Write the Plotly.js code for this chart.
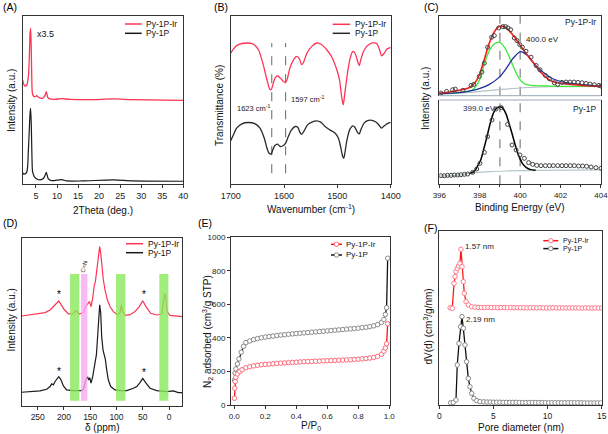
<!DOCTYPE html>
<html><head><meta charset="utf-8">
<script src="https://cdn.plot.ly/plotly-3.0.1.min.js"></script>
<style>html,body{margin:0;padding:0;background:#fff}#plot{width:608px;height:434px}</style>
</head><body><div id="plot"></div>
<script>
// ---------- DATA ----------
// (A) XRD
const aIrX = [1.85,2.0,2.4,2.8,3.2,3.45,3.6,3.73,3.85,4.0,4.15,4.4,4.9,5.2,5.6,6.5,7.1,7.45,7.8,8.3,9.5,11.1,13,18,23.4,28,40];
const aIrY = [62.0,60.0,58.4,59.0,64.0,77.8,89.7,92.7,83.8,64.0,54.1,52.5,52.1,52.7,51.7,51.1,52.5,55.0,51.7,50.7,50.5,50.9,50.5,50.3,50.7,50.3,49.9];
const aPX = [1.85,2.15,2.8,3.2,3.45,3.6,3.73,3.9,4.05,4.2,4.6,5.2,6.0,6.8,7.2,7.45,7.7,7.95,8.7,11.1,12.3,16,23.4,28,40];
const aPY = [6.7,6.1,7.1,20.4,34.3,42.2,45.1,34.3,16.4,7.5,4.6,3.2,2.6,3.6,5.5,7.1,5.1,3.2,2.2,2.8,2.0,2.0,2.6,2.0,1.8];
const aTicks = [5,10,15,20,25,30,35,40];
// (B) FTIR
const bIrX = [1700,1695,1686,1670,1658,1648,1639,1632,1627,1624,1621,1617,1612,1607,1601,1597,1594,1589,1582,1576,1571,1567,1564,1557,1548,1539,1529,1520,1511,1501,1496,1492,1489,1486,1481,1476,1471,1467,1462,1459,1456,1451,1445,1436,1426,1421,1417,1412,1407,1400];
const bIrY = [78.1,80.5,83.1,84.1,83.5,80.1,71.2,62.2,56.7,56.3,59.2,63.2,64.6,63.2,61.2,60.6,62.6,69.2,74.2,76.1,74.5,71.2,72.2,78.1,82.1,84.1,83.1,80.1,76.1,68.2,62.2,52.3,47.3,54.3,66.2,75.1,79.1,78.1,73.2,70.6,74.2,79.1,82.1,84.1,83.7,80.1,76.5,78.1,80.5,81.5];
const bPX = [1700,1695,1689,1679,1667,1654,1645,1637,1632,1628,1624,1621,1617,1612,1607,1601,1597,1592,1586,1579,1574,1570,1567,1562,1556,1548,1539,1531,1523,1514,1504,1498,1494,1490,1488,1486,1482,1477,1471,1467,1462,1459,1456,1450,1442,1432,1425,1420,1417,1412,1407,1400];
const bPY = [26.0,29.4,33.4,36.0,36.8,36.0,33.4,27.4,21.5,18.5,18.1,20.5,23.1,23.9,22.5,23.1,24.5,28.4,32.4,34.4,33.8,30.8,29.8,32.0,35.4,37.0,37.8,37.0,34.4,32.4,30.4,27.4,22.5,16.5,15.5,18.5,26.4,32.4,34.8,33.8,30.8,30.0,32.4,36.4,38.0,37.8,36.4,34.4,33.4,34.8,36.0,36.8];
const bRefX = [1623,1597];
const bRefY = [6.6,84.1];
const bTicks = [1700,1600,1500,1400];
// (C) XPS N1s
const cIrPtsX = [396.08,396.36,396.66,396.79,397.16,397.57,397.70,397.98,398.11,398.23,398.39,398.59,398.72,398.94,399.14,399.27,399.40,399.53,399.71,399.84,399.98,400.11,400.29,400.54,400.79,400.98,401.25,401.45,401.69,401.86,402.07,402.27,402.47,402.67,402.86,403.06,403.26,403.46,403.67,403.89,404.0];
const cIrPtsY = [3.3,5.4,7.5,8.3,6.7,12.9,14.2,24.2,29.6,40.8,60.8,73.3,75.4,85,86.7,86.7,85,82.9,72.5,69.2,64.2,60.8,55.8,48.3,37.9,32.5,25.4,21.25,16.25,14.2,16.7,17.1,17.1,17.1,16.7,16.25,15.4,14.6,13.75,12.9,12.1];
const cEnvX = [396.0,396.48,396.98,397.47,397.72,397.97,398.21,398.46,398.71,398.96,399.20,399.45,399.70,399.95,400.19,400.44,400.69,400.94,401.18,401.43,401.68,402.17,402.75,403.25,404.0];
const cEnvY = [3.3,4.6,6.7,10,15,25.4,44.2,65,79.6,86.7,86.7,81.7,74.2,65,56.7,48.3,40,31.7,25.4,20,17.1,15,13.75,12.5,11.7];
const cGreenX = [396.0,396.99,397.65,397.98,398.23,398.48,398.72,398.97,399.22,399.47,399.71,399.96,400.21,400.54,401.45,404.0];
const cGreenY = [2.5,3.75,7.5,19.2,40,56.7,65,67.1,60.8,48.3,33.75,21.25,15,12.9,12.1,11.7];
const cBlueX = [396.0,396.99,397.98,398.48,398.97,399.30,399.63,400.01,400.37,400.70,401.12,401.61,402.27,403.10,404.0];
const cBlueY = [2.5,3.75,8.75,14.2,23.3,33.75,46.25,55.4,50.4,40,29.6,21.25,16.25,13.75,11.7];
const cBgIrX = [396.0,397.65,398.97,400.13,401.45,404.0];
const cBgIrY = [1.7,4.6,7.5,10,11.25,11.7];
const cPPtsX = [396.08,396.25,396.41,396.58,396.74,396.91,397.07,397.24,397.40,397.65,397.85,398.01,398.23,398.39,398.61,398.81,399.07,399.38,399.60,399.80,399.99,400.21,400.42,400.62,400.82,401.03,401.25,401.45,401.64,401.86,402.07,402.27,402.48,402.68,402.89,403.09,403.29,403.51,403.75,404.0];
const cPPtsY = [10.2,10.2,10.6,10.6,11.0,11.0,11.4,11.8,12.2,14.2,18.2,24.9,37.9,56.5,76.3,89.3,90.9,71.1,46.6,40.7,34.8,30.8,25.7,23.7,22.5,22.1,22.1,22.1,22.1,22.1,22.1,22.1,22.1,22.1,21.7,21.7,21.3,20.5,19.8,19.0];
const cFitX = [397.47,397.72,397.88,398.05,398.21,398.38,398.54,398.71,398.87,399.0,399.12,399.29,399.45,399.62,399.78,399.95,400.11,400.31,400.52,400.77];
const cFitY = [12.6,15.0,20.9,28.8,42.7,58.5,74.3,86.2,90.9,92.1,90.9,84.2,72.3,58.5,44.7,32.8,24.9,19.8,17.4,16.6];
const cBgPX = [396.0,396.99,397.65,398.48,399.30,400.95,404.0];
const cBgPY = [9.8,11.0,13.4,15.0,15.8,16.6,17.0];
const cRefX = [399.0,400.0];
const cTicks = [396,398,400,402,404];
const cMinor = [396,397,398,399,400,401,402,403,404];
// (D) 13C NMR
const dIrX = [280.5,264.6,245.6,236.0,226.5,220.2,213.8,210.0,206.2,199.9,191.6,183.4,177.0,170.7,163.1,158.0,154.8,151.6,148.5,145.3,142.7,140.2,138.3,135.8,133.9,132.0,130.0,127.5,125.0,121.8,117.4,112.3,106.0,98.3,93.3,90.7,88.2,83.7,74.2,64.7,56.5,50.1,43.8,34.9,23.5,13.9,10.8,8.2,6.3,3.8,-1.9,-14.6,-25];
const dIrY = [53.4,54.0,54.6,55.4,57.0,59.0,61.0,62.3,60.6,57.4,54.6,54.6,56.6,54.6,55.4,59.4,60.6,62.0,59.0,63.9,70.9,73.8,78.8,84.7,90.7,94.7,90.7,80.8,74.8,68.8,62.9,59.0,56.0,54.2,55.4,60.0,56.0,53.8,54.2,56.0,59.0,62.5,59.0,55.0,54.0,54.6,60.0,66.9,65.0,56.0,53.8,53.4,53.0];
const dPX = [280.5,264.6,245.6,232.9,226.5,223.4,220.2,217.0,212.6,210.0,206.2,201.1,194.8,182.1,166.2,163.1,159.9,157.3,154.8,152.9,151.0,148.5,145.3,142.7,140.2,138.3,136.4,133.9,132.0,130.0,128.2,125.6,123.7,121.2,118.6,115.5,111.0,102.8,93.3,80.6,67.9,61.5,55.2,50.1,43.8,36.1,23.5,4.4,-8.3,-17.8,-25];
const dPY = [8.0,8.4,8.8,9.8,11.4,13.0,12.4,14.4,16.3,17.3,15.7,11.8,9.4,9.0,9.0,9.8,13.4,16.3,16.9,15.3,16.7,13.4,17.3,23.2,26.2,30.2,39.0,53.0,60.0,55.0,41.0,33.1,30.2,27.6,21.2,15.3,11.4,9.4,9.0,9.0,10.4,11.4,13.7,16.3,13.4,10.4,9.0,8.4,8.8,7.8,7.8];
const dBandHi = [188.4,167.5,100.9,18.4];
const dBandLo = [170.7,155.4,83.1,1.2];
const dBandKind = ['g','m','g','g'];
const dStarX = [210,48,210,48];
const dStarY = [66,66,20.5,19.5];
const dTicks = [250,200,150,100,50,0];
// (E) N2 isotherms
const eIrX = [0.001,0.003,0.006,0.01,0.02,0.035,0.05,0.075,0.1,0.125,0.15,0.175,0.2,0.225,0.25,0.275,0.3,0.325,0.35,0.375,0.4,0.425,0.45,0.475,0.5,0.525,0.55,0.575,0.6,0.625,0.65,0.675,0.7,0.725,0.75,0.775,0.8,0.825,0.85,0.875,0.9,0.925,0.95,0.965,0.975,0.983,0.99];
const eIrY = [40,100,140,165,185,200,210,222,228,233,237,240,242,244,246,248,250,251,253,254,255,257,258,259,260,261,262,263,264,265,266,267,268,269,270,272,273,275,277,280,284,290,302,320,340,365,485];
const ePX = [0.002,0.005,0.01,0.02,0.03,0.045,0.06,0.075,0.1,0.125,0.15,0.175,0.2,0.225,0.25,0.275,0.3,0.325,0.35,0.375,0.4,0.425,0.45,0.475,0.5,0.525,0.55,0.575,0.6,0.625,0.65,0.675,0.7,0.725,0.75,0.775,0.8,0.825,0.85,0.875,0.9,0.925,0.95,0.965,0.975,0.983,0.99];
const ePY = [150,190,215,245,275,315,350,372,382,390,396,401,405,408,411,414,417,419,422,424,426,428,430,432,434,436,438,440,442,444,446,448,450,452,454,456,458,461,464,467,472,479,492,510,540,580,875];
const eXTicks = [0,0.2,0.4,0.6,0.8,1.0];
const eYTicks = [0,200,400,600,800,1000];
// (F) pore size distribution
const fIrX = [1.0,1.2,1.36,1.45,1.54,1.66,1.78,1.9,2.0,2.1,2.22,2.31,2.47,2.68,2.99,3.3,3.6,3.9,4.2,4.5,4.8,5.1,5.4,5.7,6.0,6.3,6.6,6.9,7.2,7.5,7.8,8.1,8.4,8.7,9.0,9.3,9.6,9.9,10.2,10.5,10.8,11.1,11.4,11.7,12.0,12.3,12.6,12.9,13.2,13.5,13.8,14.1,14.4,14.7,15.0];
const fIrY = [55.9,55.6,69.9,73.8,76.6,78.5,79.9,81.4,89.5,79.5,70.9,64.2,59.4,57.5,56.5,56.2,56.1,56.0,56.0,56.1,56.0,56.0,55.9,56.0,56.0,55.9,56.0,55.9,55.9,55.9,55.9,55.8,55.9,55.9,55.8,55.9,55.8,55.8,55.8,55.9,55.8,55.8,55.8,55.8,55.8,55.8,55.8,55.8,55.7,55.8,55.8,55.7,55.8,55.7,55.7];
const fPX = [1.05,1.29,1.54,1.66,1.82,1.97,2.09,2.22,2.37,2.52,2.68,2.83,2.99,3.2,3.45,3.76,4.1,4.4,4.7,5.0,5.3,5.6,5.9,6.2,6.5,6.8,7.1,7.4,7.7,8.0,8.3,8.6,8.9,9.2,9.5,9.8,10.1,10.4,10.7,11.0,11.3,11.6,11.9,12.2,12.5,12.8,13.1,13.4,13.7,14.0,14.3,14.6,14.9];
const fPY = [1.3,1.5,2.9,23.0,35.4,45.0,50.8,44.1,34.5,24.9,15.3,10.5,6.7,3.8,2.5,1.9,1.8,1.7,1.7,1.6,1.6,1.6,1.5,1.5,1.5,1.5,1.5,1.4,1.4,1.4,1.4,1.4,1.4,1.4,1.4,1.3,1.3,1.3,1.3,1.3,1.3,1.3,1.3,1.3,1.3,1.3,1.3,1.2,1.2,1.2,1.2,1.2,1.2];
const fTicks = [0,5,10,15];
const seriesNames = ['Py-1P-Ir','Py-1P'];

// ---------- STYLE / LAYOUT ----------
const W = 608, H = 434;
const px = v => v / W, py = v => 1 - v / H;
const FF = 'Liberation Sans, Arial, sans-serif';
const RED = '#ff3355', BLK = '#1a1a1a';

function ax(extra) {
  return Object.assign({showline:true, mirror:true, linecolor:'#333', linewidth:1, showgrid:false, zeroline:false,
    ticks:'outside', ticklen:3, tickwidth:1, tickcolor:'#333', fixedrange:true, ticklabeloverflow:'allow',
    tickfont:{family:FF, size:9, color:'#222'}}, extra);
}
function line(x, y, xa, ya, color, w, extra) {
  return Object.assign({x, y, xaxis:xa, yaxis:ya, mode:'lines', type:'scatter', hoverinfo:'skip',
    line:{color, width:w, shape:'spline', smoothing:0.7}}, extra || {});
}
function pts(x, y, xa, ya, color, size) {
  return {x, y, xaxis:xa, yaxis:ya, mode:'markers', type:'scatter', hoverinfo:'skip',
    marker:{symbol:'circle-open', size:size, color:color, line:{width:1, color:color}}};
}
function chain(x, y, xa, ya, lc, mc, extra) {
  return Object.assign({x, y, xaxis:xa, yaxis:ya, mode:'lines+markers', type:'scatter', hoverinfo:'skip',
    line:{color:lc, width:1.3}, marker:{symbol:'circle', size:4.5, color:'#fff', line:{width:1, color:mc}}}, extra || {});
}
function dash(xv, yr, xa, ya) {
  return {x:[xv, xv], y:yr, xaxis:xa, yaxis:ya, mode:'lines', type:'scatter', hoverinfo:'skip',
    line:{color:'#666', width:1, dash:'dash'}};
}

const traces = [];
// A
traces.push(line(aPX, aPY, 'x', 'y', BLK, 1.2));
traces.push(line(aIrX, aIrY, 'x', 'y', RED, 1.3));
// B
bRefX.forEach(v => traces.push(dash(v, bRefY, 'x2', 'y2')));
traces.push(line(bPX, bPY, 'x2', 'y2', '#2a2a2a', 1.3));
traces.push(line(bIrX, bIrY, 'x2', 'y2', RED, 1.3));
// C top
cRefX.forEach(v => traces.push(dash(v, [0, 100], 'x3', 'y3')));
traces.push(line(cBgIrX, cBgIrY, 'x3', 'y3', '#b4c0c8', 1.2));
traces.push(line(cGreenX, cGreenY, 'x3', 'y3', '#3ce83c', 1.3));
traces.push(line(cBlueX, cBlueY, 'x3', 'y3', '#1c2f9c', 1.3));
traces.push(line(cEnvX, cEnvY, 'x3', 'y3', '#ff1a1a', 1.6));
traces.push(pts(cIrPtsX, cIrPtsY, 'x3', 'y3', '#444', 4));
// C bottom
cRefX.forEach(v => traces.push(dash(v, [0, 100], 'x4', 'y4')));
traces.push(line(cBgPX, cBgPY, 'x4', 'y4', '#b4c8cc', 1.2));
traces.push(line(cFitX, cFitY, 'x4', 'y4', '#000', 1.5));
traces.push(pts(cPPtsX, cPPtsY, 'x4', 'y4', '#444', 4));
// D
traces.push(line(dPX, dPY, 'x5', 'y5', BLK, 1.2, {line:{color:BLK, width:1.2, shape:'linear'}}));
traces.push(line(dIrX, dIrY, 'x5', 'y5', RED, 1.2, {line:{color:RED, width:1.2, shape:'linear'}}));
// E
traces.push(chain(ePX, ePY, 'x6', 'y6', '#111', '#8a8a8a'));
traces.push(chain(eIrX, eIrY, 'x6', 'y6', '#ff1010', '#ff6a7a'));
// F
traces.push(chain(fPX, fPY, 'x7', 'y7', '#111', '#8a8a8a'));
traces.push(chain(fIrX, fIrY, 'x7', 'y7', '#ff1a1a', '#ff7a8a'));

// ---------- shapes ----------
const shapes = [];
function hline(x0, x1, y, color, w) {
  shapes.push({type:'line', xref:'paper', yref:'paper', x0:px(x0), x1:px(x1), y0:py(y), y1:py(y), line:{color, width:w}});
}
function dot(cx, cy, color) {
  shapes.push({type:'circle', xref:'paper', yref:'paper', xsizemode:'pixel', ysizemode:'pixel',
    xanchor:px(cx), yanchor:py(cy), x0:-2.2, x1:2.2, y0:-2.2, y1:2.2, fillcolor:'#fff', line:{color, width:1}});
}
// D highlight bands
dBandHi.forEach((hi, i) => {
  shapes.push({type:'rect', xref:'x5', yref:'y5', x0:hi, x1:dBandLo[i], y0:3, y1:78.4, layer:'above',
    fillcolor: dBandKind[i] === 'g' ? '#88e85a' : '#f7a8f2', opacity:0.8, line:{width:0}});
});
// C separators
hline(439.3, 601, 95.7, '#9aa8b8', 1);
hline(439.3, 601, 100, '#9aa8b8', 1);

// legends (glyphs)
const legA = [[125,141.7,24,144.3],[125,141.7,33.3,144.3]];
const legB = [[332.7,350,24.3,353],[332.7,350,33.3,353]];
const legD = [[126,143,243.7,146],[126,143,252.7,146]];
const legE = [[331,342,244.3,344],[331,342,255,344]];
const legF = [[543.3,558.3,240.7,561],[543.3,558.3,248.6,561]];
const annotations = [];
function A(text, x, y, o) {
  const a = {text, xref:'paper', yref:'paper', x:px(x), y:py(y), showarrow:false, xanchor:'left', yanchor:'middle',
    font:{family:FF, size:9, color:'#111'}};
  if (o) { const f = o.font; Object.assign(a, o); if (f) a.font = Object.assign({family:FF, size:9, color:'#111'}, f); }
  return a;
}
function legend(spec, colors, mcolors, fs) {
  spec.forEach((s, i) => {
    hline(s[0], s[1], s[2], colors[i], 1.5);
    if (mcolors) dot((s[0] + s[1]) / 2, s[2], mcolors[i]);
    annotations.push(A(seriesNames[i], s[3], s[2], {font:{size:fs || 8.5}}));
  });
}
legend(legA, [RED, BLK]);
legend(legB, [RED, '#2a2a2a']);
legend(legD, [RED, BLK]);
legend(legE, ['#ff1010', '#111'], ['#ff6a7a', '#8a8a8a'], 8);
legend(legF, ['#ff1a1a', '#111'], ['#ff7a8a', '#8a8a8a'], 7);

// panel labels
[['(A)',1,7],['(B)',212,7],['(C)',421.5,7],['(D)',1,223],['(E)',196,223],['(F)',421.5,228]].forEach(p =>
  annotations.push(A(p[0], p[1], p[2], {font:{size:10.5, color:'#000'}})));

// axis titles
const T = 10;
annotations.push(A('2Theta (deg.)', 103, 210.7, {xanchor:'center', font:{size:T}}));
annotations.push(A('Intensity (a.u.)', 11, 101, {xanchor:'center', textangle:-90, font:{size:T}}));
annotations.push(A('Wavenumber (cm<sup>-1</sup>)', 310.7, 209, {xanchor:'center', font:{size:T}}));
annotations.push(A('Transmittance (%)', 220, 106, {xanchor:'center', textangle:-90, font:{size:T}}));
annotations.push(A('Binding Energy (eV)', 520, 208, {xanchor:'center', font:{size:T}}));
annotations.push(A('Intensity (a.u.)', 426, 99, {xanchor:'center', textangle:-90, font:{size:T}}));
annotations.push(A('δ (ppm)', 102, 427, {xanchor:'center', font:{size:T}}));
annotations.push(A('Intensity (a.u.)', 10.5, 320, {xanchor:'center', textangle:-90, font:{size:T}}));
annotations.push(A('P/P<sub>0</sub>', 310.5, 426, {xanchor:'center', font:{size:T}}));
annotations.push(A('N<sub>2</sub> adsorbed (cm<sup>3</sup>/g STP)', 207, 332, {xanchor:'center', textangle:-90, font:{size:T}}));
annotations.push(A('Pore diameter (nm)', 520.5, 427, {xanchor:'center', font:{size:T}}));
annotations.push(A('dV(d) (cm<sup>3</sup>/g/nm)', 427.5, 327, {xanchor:'center', textangle:-90, font:{size:T}}));

// in-plot texts
annotations.push(A('x3.5', 35, 34.3, {font:{size:9}}));
annotations.push(A('1623 cm<sup>-1</sup>', 235, 108.3, {font:{size:7.5, color:'#222'}}));
annotations.push(A('1597 cm<sup>-1</sup>', 289.3, 99, {font:{size:7.5, color:'#222'}}));
annotations.push(A('Py-1P-Ir', 598, 22.5, {xanchor:'right', font:{size:8.5, color:'#222'}}));
annotations.push(A('400.0 eV', 524, 39.3, {font:{size:8, color:'#222'}}));
annotations.push(A('399.0 eV', 460.5, 109, {font:{size:8, color:'#1a2a5a'}}));
annotations.push(A('Py-1P', 570.7, 109, {font:{size:8.5, color:'#222'}}));
annotations.push(A('1.57 nm', 463.3, 246.7, {font:{size:8, color:'#222'}}));
annotations.push(A('2.19 nm', 464, 319.3, {font:{size:8, color:'#222'}}));
dStarX.forEach((x, i) => annotations.push({text:'*', xref:'x5', yref:'y5', x, y:dStarY[i], showarrow:false,
  xanchor:'center', yanchor:'middle', font:{family:FF, size:10, color:'#000'}}));
annotations.push({text:'C=N', xref:'x5', yref:'y5', x:161, y:83, showarrow:false, textangle:-75,
  xanchor:'center', yanchor:'middle', font:{family:FF, size:6, color:'#333'}});

const noY = {showticklabels:false, ticks:''};
const layout = {
  width:W, height:H, margin:{l:0, r:0, t:0, b:0}, showlegend:false,
  paper_bgcolor:'#fff', plot_bgcolor:'rgba(0,0,0,0)', font:{family:FF},
  xaxis: ax({domain:[px(22.7), px(183.3)], range:[1.85, 40], tickmode:'array', tickvals:aTicks, anchor:'y'}),
  yaxis: ax(Object.assign({domain:[py(184.3), py(16)], range:[0, 100], anchor:'x'}, noY)),
  xaxis2: ax({domain:[px(230.7), px(390.7)], range:[1700, 1400], tickmode:'array', tickvals:bTicks, anchor:'y2'}),
  yaxis2: ax(Object.assign({domain:[py(184.3), py(16.3)], range:[0, 100], anchor:'x2'}, noY)),
  xaxis3: ax({domain:[px(439.3), px(601)], range:[396, 404], anchor:'y3', side:'top', mirror:false, ticks:'', showticklabels:false}),
  yaxis3: ax(Object.assign({domain:[py(95.7), py(16)], range:[0, 100], anchor:'x3'}, noY)),
  xaxis4: ax({domain:[px(439.3), px(601)], range:[396, 404.001], anchor:'y4', mirror:false, tickmode:'array', tickvals:cTicks,
    minor:{tickmode:'array', tickvals:cMinor, ticks:'outside', ticklen:2, tickcolor:'#333'}, tickfont:{family:FF, size:8, color:'#222'}}),
  yaxis4: ax(Object.assign({domain:[py(184.3), py(100)], range:[0, 100], anchor:'x4'}, noY)),
  xaxis5: ax({domain:[px(21.7), px(182.3)], range:[280.5, -25.3], tickmode:'array', tickvals:dTicks, anchor:'y5', tickfont:{family:FF, size:8.5, color:'#222'}}),
  yaxis5: ax(Object.assign({domain:[py(405.7), py(237.7)], range:[0, 100], anchor:'x5'}, noY)),
  xaxis6: ax({domain:[px(231), px(390)], range:[-0.021, 1.005], tickmode:'array', tickvals:eXTicks, tickformat:'.1f', anchor:'y6', tickfont:{family:FF, size:8, color:'#222'}}),
  yaxis6: ax({domain:[py(405), py(237.3)], range:[0, 1000], tickmode:'array', tickvals:eYTicks, anchor:'x6', tickfont:{family:FF, size:8, color:'#222'}}),
  xaxis7: ax({domain:[px(439.3), px(601.7)], range:[0, 15.001], tickmode:'array', tickvals:fTicks, anchor:'y7', tickfont:{family:FF, size:8.5, color:'#222'}}),
  yaxis7: ax(Object.assign({domain:[py(405), py(231)], range:[0, 100], anchor:'x7'}, noY)),
  shapes, annotations
};
Plotly.newPlot('plot', traces, layout, {staticPlot:true, displayModeBar:false});
</script></body></html>
